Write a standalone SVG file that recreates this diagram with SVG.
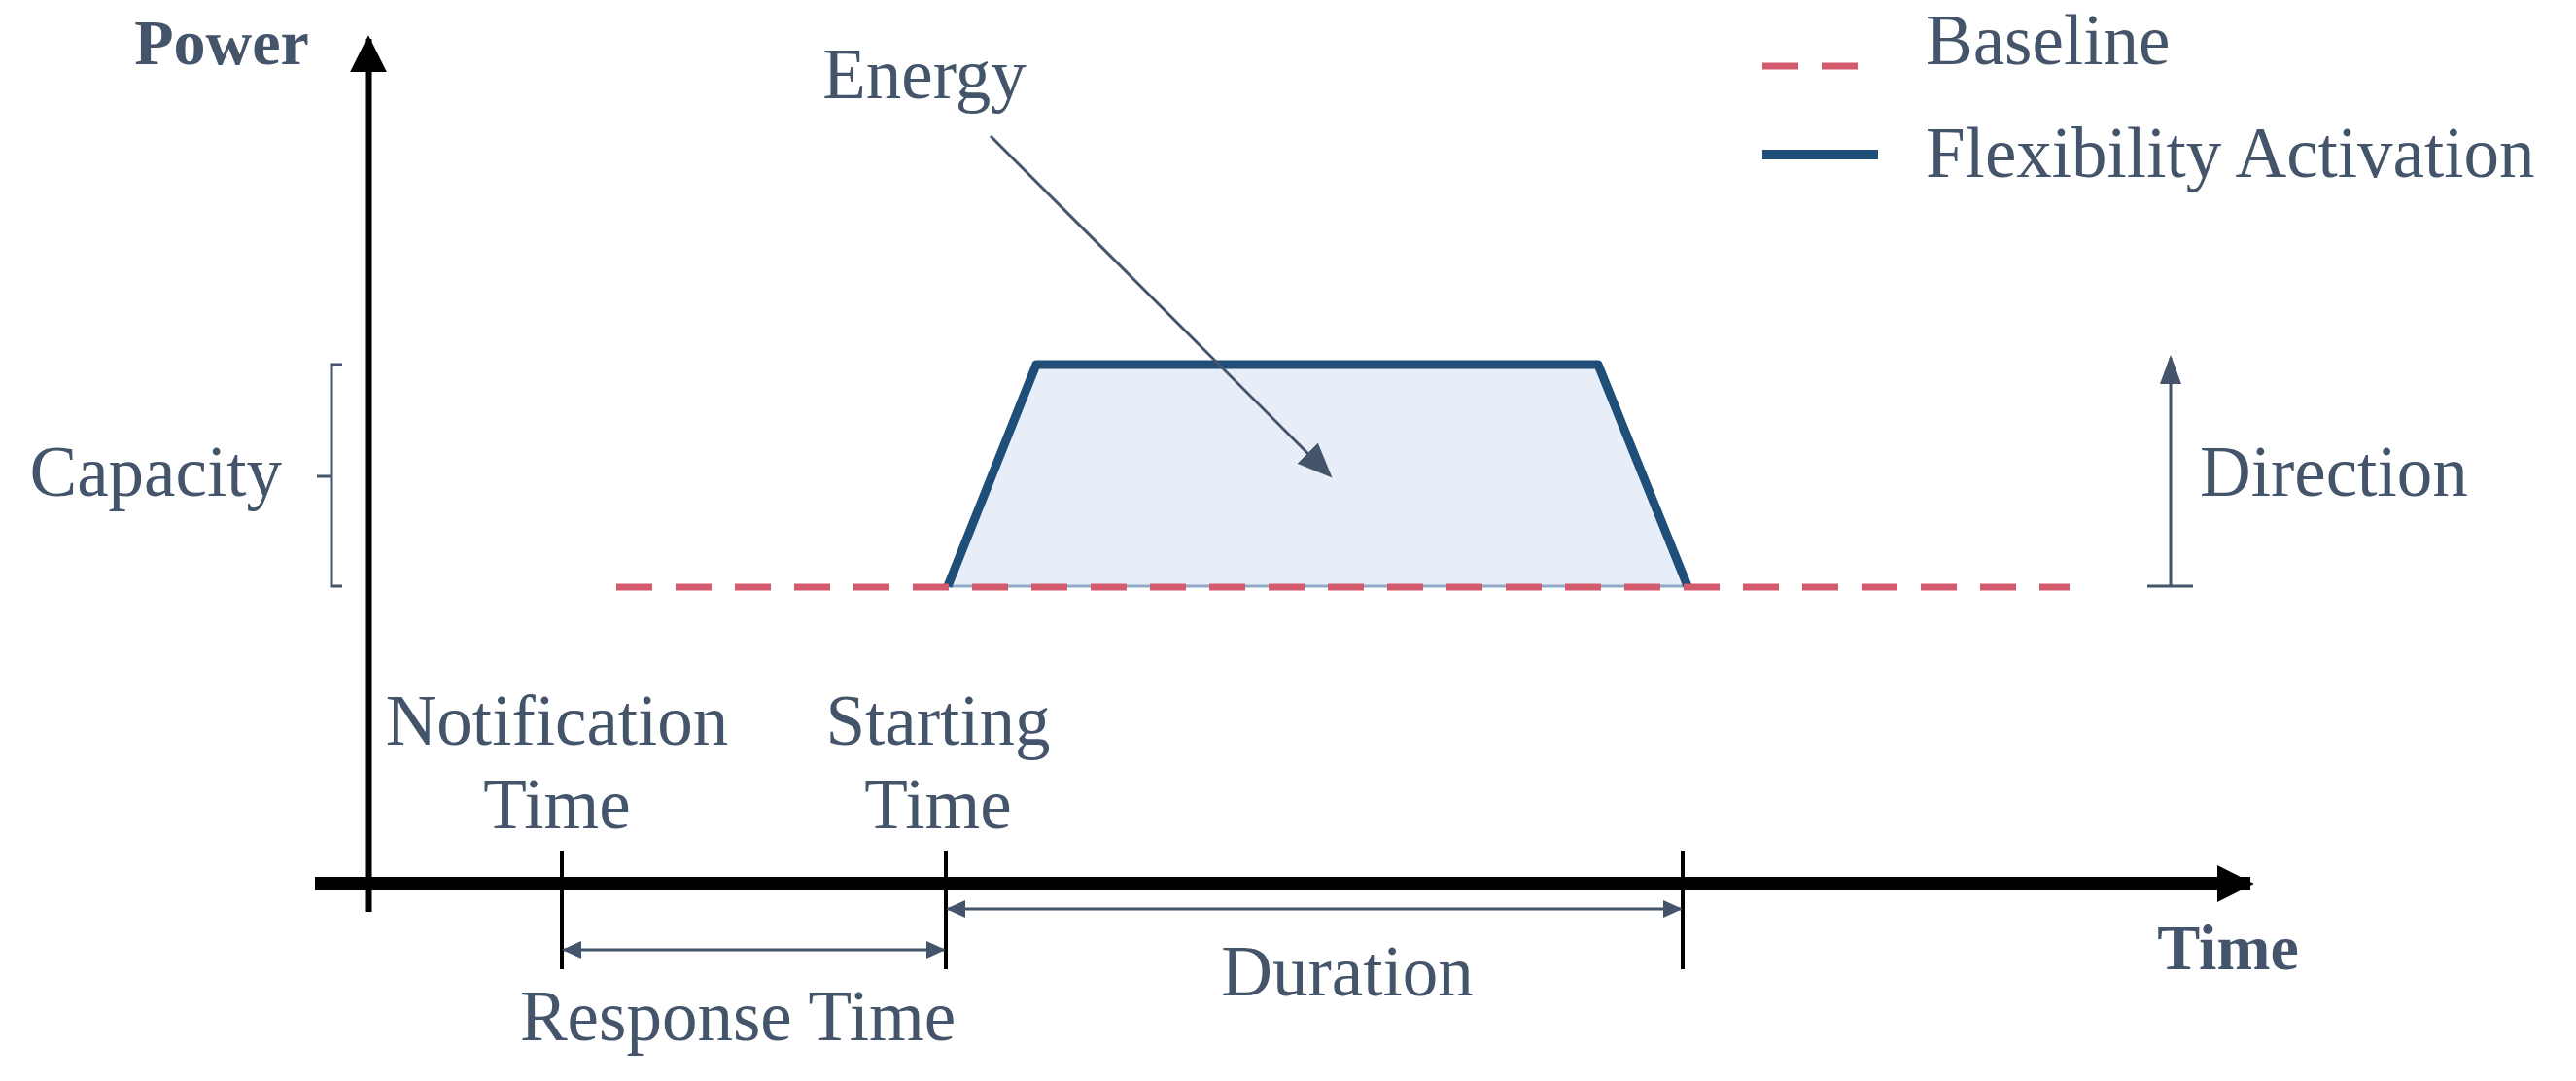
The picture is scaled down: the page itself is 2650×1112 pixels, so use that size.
<svg xmlns="http://www.w3.org/2000/svg" width="2650" height="1112" viewBox="0 0 2650 1112">
<style>
text{font-family:"Liberation Serif","Times New Roman",serif;fill:#44546a;font-size:73px}
.b{font-weight:bold;font-size:66px}
.m{text-anchor:middle}
.blk{stroke:#000;fill:none}
.sl{stroke:#44546a;fill:none;stroke-width:3}
</style>
<defs>
<marker id="ah" viewBox="0 0 10 10" refX="9" refY="5" markerWidth="36" markerHeight="30" orient="auto" markerUnits="userSpaceOnUse" preserveAspectRatio="none"><path d="M0,0 L10,5 L0,10 z" fill="#44546a"/></marker>
<marker id="ahs" viewBox="0 0 10 10" refX="9" refY="5" markerWidth="20" markerHeight="18" orient="auto-start-reverse" markerUnits="userSpaceOnUse" preserveAspectRatio="none"><path d="M0,0 L10,5 L0,10 z" fill="#44546a"/></marker>
<marker id="ahd" viewBox="0 0 10 10" refX="9" refY="5" markerWidth="30" markerHeight="22" orient="auto" markerUnits="userSpaceOnUse" preserveAspectRatio="none"><path d="M0,0 L10,5 L0,10 z" fill="#44546a"/></marker>
<marker id="ahb" viewBox="0 0 10 10" refX="9" refY="5" markerWidth="38" markerHeight="38" orient="auto" markerUnits="userSpaceOnUse"><path d="M0,0 L10,5 L0,10 z" fill="#000"/></marker>
</defs>
<g id="energy-area">
<polygon points="975,603 1066,375 1644,375 1736,603" fill="#e7eef8"/>
<line x1="975" y1="603" x2="1736" y2="603" stroke="#8fa9c6" stroke-width="3"/>
<polyline points="975,603 1066,375 1644,375 1736,603" fill="none" stroke="#1f4e79" stroke-width="9" stroke-linejoin="round"/>
</g>
<g id="baseline">
<line x1="634" y1="604" x2="2129" y2="604" stroke="#d45b6e" stroke-width="7" stroke-dasharray="37,24"/>
</g>
<g id="axes">
<line class="blk" x1="379" y1="938" x2="379" y2="40" stroke-width="7" marker-end="url(#ahb)"/>
<line class="blk" x1="324" y1="909" x2="2315" y2="909" stroke-width="14" marker-end="url(#ahb)"/>
<text class="b m" x="228" y="66">Power</text>
<text class="b m" x="2292" y="997">Time</text>
</g>
<g id="connectors">
<line class="blk" x1="578" y1="875" x2="578" y2="997" stroke-width="4"/>
<line class="blk" x1="973" y1="875" x2="973" y2="997" stroke-width="4"/>
<line class="blk" x1="1731" y1="875" x2="1731" y2="997" stroke-width="4"/>
<line class="sl" x1="580" y1="977" x2="971" y2="977" stroke-width="5" marker-start="url(#ahs)" marker-end="url(#ahs)"/>
<line class="sl" x1="975" y1="935" x2="1729" y2="935" stroke-width="4" marker-start="url(#ahs)" marker-end="url(#ahs)"/>
<line class="sl" x1="1019" y1="140" x2="1368" y2="489" stroke-width="3" marker-end="url(#ah)"/>
<line class="sl" x1="2233" y1="603" x2="2233" y2="368" stroke-width="4" marker-end="url(#ahd)"/>
<line class="sl" x1="2209" y1="603" x2="2256" y2="603" stroke-width="8"/>
<path class="sl" d="M352,375 H341 V603 H352 M341,490 H326" stroke-width="6"/>
</g>
<g id="legend">
<line x1="1813" y1="68" x2="1932" y2="68" stroke="#d45b6e" stroke-width="7" stroke-dasharray="37,24"/>
<text x="1981" y="66">Baseline</text>
<line x1="1813" y1="159" x2="1932" y2="159" stroke="#1f4e79" stroke-width="10"/>
<text x="1981" y="182">Flexibility Activation</text>
</g>
<g id="labels">
<text class="m" x="951" y="101">Energy</text>
<text x="290" y="510" text-anchor="end">Capacity</text>
<text x="2263" y="510">Direction</text>
<text class="m" x="573" y="766">Notification</text>
<text class="m" x="573" y="852">Time</text>
<text class="m" x="965" y="766">Starting</text>
<text class="m" x="965" y="852">Time</text>
<text class="m" x="759" y="1070">Response Time</text>
<text class="m" x="1386" y="1024">Duration</text>
</g>
</svg>
